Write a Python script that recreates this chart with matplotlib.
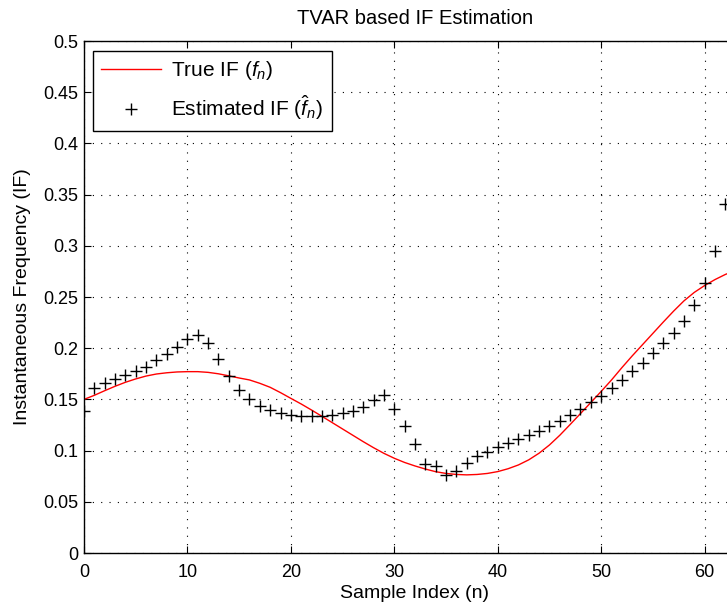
import matplotlib
matplotlib.use('Agg')
import matplotlib.pyplot as plt

# true IF at each sample index 0..63
true_if = [0.150, 0.154, 0.1585, 0.1628, 0.1667, 0.170, 0.1728, 0.1748, 0.176, 0.1768,
           0.1771, 0.1771, 0.1764, 0.175, 0.173, 0.1709, 0.169, 0.1657, 0.1618, 0.1566,
           0.151, 0.1455, 0.1396, 0.1335, 0.1273, 0.1211, 0.1149, 0.1087, 0.1028, 0.0973,
           0.0925, 0.0884, 0.085, 0.082, 0.0794, 0.0777, 0.0767, 0.0763, 0.0767, 0.0777,
           0.0795, 0.0823, 0.086, 0.091, 0.0975, 0.1055, 0.115, 0.1255, 0.1362, 0.147,
           0.1578, 0.169, 0.181, 0.1925, 0.2035, 0.2145, 0.2255, 0.2362, 0.2462, 0.2545,
           0.2612, 0.267, 0.272, 0.276]
# estimated IF (+ markers), sample index 0..62
est_if = [0.139, 0.161, 0.166, 0.170, 0.1735, 0.1774, 0.182, 0.188, 0.194, 0.2015,
          0.209, 0.213, 0.2054, 0.189, 0.173, 0.1595, 0.150, 0.144, 0.140, 0.137,
          0.1345, 0.1338, 0.1338, 0.1338, 0.1348, 0.1364, 0.139, 0.143, 0.1497, 0.154,
          0.141, 0.1243, 0.1064, 0.0872, 0.085, 0.0762, 0.080, 0.0879, 0.0944, 0.099,
          0.1038, 0.1077, 0.1113, 0.1152, 0.1191, 0.1237, 0.1286, 0.1345, 0.1403, 0.147,
          0.1537, 0.1615, 0.169, 0.1777, 0.186, 0.195, 0.2048, 0.2148, 0.227, 0.2425,
          0.264, 0.295, 0.3405]
n_true = list(range(len(true_if)))
n_est = list(range(len(est_if)))

xticks = [0, 10, 20, 30, 40, 50, 60]
yticks = [0, 0.05, 0.1, 0.15, 0.2, 0.25, 0.3, 0.35, 0.4, 0.45, 0.5]
ytick_labels = ['0', '0.05', '0.1', '0.15', '0.2', '0.25', '0.3', '0.35', '0.4', '0.45', '0.5']

plt.rcParams['font.family'] = ['Liberation Sans', 'DejaVu Sans']
plt.rcParams['mathtext.fontset'] = 'custom'
plt.rcParams['mathtext.it'] = 'Liberation Sans:italic'
plt.rcParams['mathtext.rm'] = 'Liberation Sans'

W, H = 727, 604
fig = plt.figure(figsize=(W / 100, H / 100), dpi=100)
# axes runs past the right edge of the picture, as in the reference
x0, x1, y0, y1 = 84, 746, 41, 553
ax = fig.add_axes([x0 / W, 1 - y1 / H, (x1 - x0) / W, (y1 - y0) / H])

ax.plot(n_true, true_if, '-', color='red', lw=1.0, label='True IF ($f_n$)')
ax.plot(n_est, est_if, '+', color='black', ms=9, mew=1.0, label='Estimated IF ($\\hat{f}_n$)')

ax.set_xlim(0, 64)
ax.set_ylim(0, 0.5)
ax.set_xticks(xticks)
ax.set_yticks(yticks)
ax.set_yticklabels(ytick_labels)
ax.tick_params(direction='in', length=5, labelsize=13, top=True, right=True, width=0.8)
ax.tick_params(axis='x', pad=8)
ax.tick_params(axis='y', pad=4)
ax.grid(True, color='black', linestyle=(0, (1, 6.5)), linewidth=0.8)
for s in ax.spines.values():
    s.set_linewidth(1.0)

ax.set_title('TVAR based IF Estimation', fontsize=14.5, pad=12)
ax.set_xlabel('Sample Index (n)', fontsize=14, labelpad=3)
ax.set_ylabel('Instantaneous Frequency (IF)', fontsize=14, labelpad=9)

leg = ax.legend(loc='upper left', bbox_to_anchor=((93 - x0) / (x1 - x0), 1 - (51 - y0) / (y1 - y0)),
                borderaxespad=0, fontsize=15, handlelength=2.85, handletextpad=0.5,
                labelspacing=0.55, borderpad=0.4, fancybox=False, framealpha=1)
leg.get_frame().set_edgecolor('black')
leg.get_frame().set_linewidth(1.0)

fig.savefig('out.png', dpi=100)
